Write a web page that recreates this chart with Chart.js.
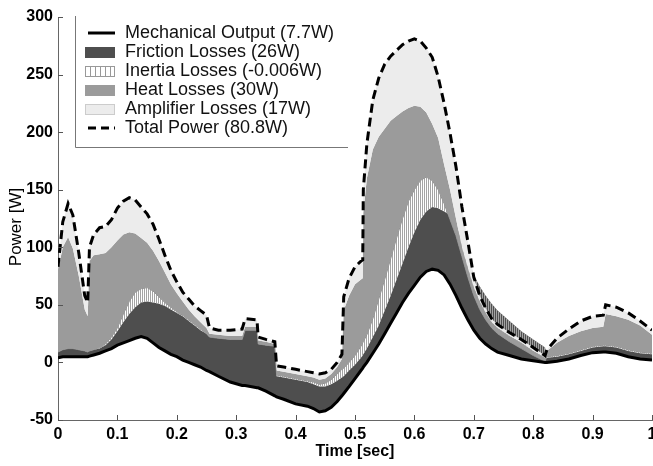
<!DOCTYPE html>
<html>
<head>
<meta charset="utf-8">
<style>
  html, body { margin: 0; padding: 0; background: #fff; }
  canvas { display: block; }
</style>
<script src="https://cdn.jsdelivr.net/npm/chart.js@4.4.1/dist/chart.umd.min.js"></script>
</head>
<body>
<canvas id="power" width="653" height="466"></canvas>
<script>
// time over one cycle [sec]
const time = [0, 0.008, 0.017, 0.025, 0.035, 0.045, 0.05, 0.053, 0.06, 0.07,
  0.08, 0.09, 0.1, 0.11, 0.12, 0.13, 0.14, 0.15, 0.16, 0.17,
  0.18, 0.19, 0.2, 0.21, 0.22, 0.23, 0.24, 0.25, 0.255, 0.27,
  0.29, 0.31, 0.315, 0.335, 0.337, 0.35, 0.365, 0.368, 0.38, 0.4,
  0.42, 0.43, 0.44, 0.45, 0.46, 0.47, 0.478, 0.481, 0.49, 0.5,
  0.51, 0.513, 0.514, 0.52, 0.53, 0.54, 0.55, 0.56, 0.57, 0.58,
  0.59, 0.6, 0.61, 0.62, 0.63, 0.64, 0.65, 0.66, 0.67, 0.68,
  0.69, 0.7, 0.71, 0.72, 0.73, 0.74, 0.76, 0.78, 0.8, 0.82,
  0.823, 0.84, 0.86, 0.88, 0.9, 0.918, 0.922, 0.94, 0.96, 0.98, 1];

// mechanical output [W]
const mechanical = [4, 5, 5, 5, 5, 5, 5, 5.5, 6.5, 8,
  10, 12, 15, 17, 19, 21, 22.5, 21, 17, 13,
  10, 7, 5, 2, 0, -2, -4, -7, -8, -12,
  -17, -20, -20, -22, -22, -25, -29, -30, -32, -36,
  -38, -40, -43, -42, -39, -34, -29, -27, -21, -14,
  -7, -5, -4, 0, 8, 16, 25, 34, 43, 52,
  60, 67, 74, 79, 81, 80, 76, 68, 58, 47,
  37, 28, 21, 16, 12, 9, 6, 3, 1.5, 0,
  0, 1, 3, 6, 8.5, 9, 9, 8, 5, 3, 2];

// running sums: mechanical + friction, + inertia, + heat [W]
const plusFriction = [9, 11, 12, 12, 11, 10, 9, 10, 11, 12,
  15, 20, 27, 35, 42, 48, 52, 53, 52, 51,
  49, 46, 43, 40, 36, 32, 28, 25, 22, 21,
  20, 20, 28, 28, 16, 15, 14, -12, -13, -15,
  -17, -19, -21, -21, -19, -16, -13, -12, -7, -2,
  4, 6, 7, 12, 22, 32, 45, 58, 72, 86,
  100, 113, 124, 131, 135, 134, 131, 128, 120, 105,
  89, 76, 66, 58, 51, 45, 36, 27, 20, 13,
  4, 5, 7, 10, 13, 14, 14, 13, 10, 8, 7];

const plusInertia = [9, 11, 12, 12, 11, 10, 9, 10, 11, 13,
  16, 22, 30, 42, 53, 61, 64, 65, 62, 57,
  52, 48, 44, 41, 37, 33, 29, 25, 22, 21,
  20, 20, 28, 28, 16, 15, 14, -11, -12, -14,
  -16, -17, -19, -18, -15, -10, -6, -5, 0, 6,
  14, 17, 18, 24, 38, 55, 72, 90, 108, 125,
  140, 150, 158, 161, 158, 150, 138, 124, 110, 92,
  74, 58, 46, 37, 30, 25, 18, 12, 6, 1,
  5, 6, 8, 11, 14, 15, 15, 14, 11, 9, 8];

const plusHeat = [80, 100, 109, 99, 75, 46, 40, 88, 93, 94,
  95, 100, 106, 111, 113, 112, 108, 104, 97, 88,
  78, 68, 60, 53, 46, 40, 35, 30, 25, 24,
  23, 23, 31, 31, 19, 18, 16, -7, -8, -10,
  -12, -13, -15, -14, -10, -4, 3, 45, 58, 68,
  72, 73, 130, 160, 185, 196, 203, 210, 214, 218,
  221, 223, 222, 217, 207, 195, 172, 150, 125, 100,
  82, 65, 53, 43, 35, 30, 23, 17, 10, 4,
  10, 17, 23, 27, 30, 31, 42, 40, 37, 32, 24];

// total electrical power (adds amplifier losses) [W]
const totalPower = [83, 122, 138, 128, 95, 58, 52, 100, 111, 117,
  118, 124, 134, 140, 143, 141, 135, 129, 120, 107,
  93, 80, 70, 61, 55, 49, 45, 41, 30, 28,
  28, 29, 38, 37, 22, 20, 18, -3, -4, -6,
  -8, -9, -10, -9, -6, 0, 7, 57, 73, 83,
  88, 89, 150, 190, 228, 247, 259, 266, 271, 276,
  279, 281, 279, 273, 265, 248, 225, 199, 170, 135,
  105, 74, 58, 47, 38, 33, 26, 20, 13, 6,
  11, 21, 29, 36, 40, 41, 50, 48, 43, 36, 28];

const legendLabels = ['Mechanical Output (7.7W)', 'Friction Losses (26W)',
  'Inertia Losses (-0.006W)', 'Heat Losses (30W)', 'Amplifier Losses (17W)',
  'Total Power (80.8W)'];

const xTicks = [0, 0.1, 0.2, 0.3, 0.4, 0.5, 0.6, 0.7, 0.8, 0.9, 1];
const xTickLabels = ['0', '0.1', '0.2', '0.3', '0.4', '0.5', '0.6', '0.7', '0.8', '0.9', '1'];
const yTicks = [-50, 0, 50, 100, 150, 200, 250, 300];

const FONT = '"Liberation Sans", Arial, Helvetica, sans-serif';
const DARK = '#4e4e4e', MID = '#9b9b9b', LIGHT = '#ececec';

// fine vertical hatch for the inertia band
const hatchCanvas = document.createElement('canvas');
hatchCanvas.width = 2; hatchCanvas.height = 2;
const hctx = hatchCanvas.getContext('2d');
hctx.fillStyle = '#a4a4a4';
hctx.fillRect(0, 0, 1, 2);
const hatch = hctx.createPattern(hatchCanvas, 'repeat');

const pts = arr => arr.map((v, i) => ({ x: time[i], y: v }));
const none = 'rgba(0,0,0,0)';

Chart.defaults.font.family = FONT;

// MATLAB-ish decorations: inward ticks, axis titles, legend box
const decor = {
  id: 'decor',
  afterDraw(chart) {
    const { ctx, chartArea: a, scales: { x, y } } = chart;
    ctx.save();
    ctx.strokeStyle = '#555';
    ctx.lineWidth = 1;
    ctx.beginPath();
    x.ticks.forEach(t => {
      const px = Math.round(x.getPixelForValue(t.value)) + 0.5;
      ctx.moveTo(px, a.bottom); ctx.lineTo(px, a.bottom - 5);
    });
    y.ticks.forEach(t => {
      const py = Math.round(y.getPixelForValue(t.value)) + 0.5;
      ctx.moveTo(a.left, py); ctx.lineTo(a.left + 5, py);
    });
    ctx.stroke();

    ctx.fillStyle = '#000';
    ctx.textAlign = 'center';
    ctx.textBaseline = 'middle';
    ctx.font = 'bold 16px ' + FONT;
    ctx.fillText('Time [sec]', (a.left + a.right) / 2, 452);
    ctx.save();
    ctx.translate(16, 227);
    ctx.rotate(-Math.PI / 2);
    ctx.font = '17px ' + FONT;
    ctx.fillText('Power [W]', 0, 0);
    ctx.restore();

    // legend
    const lx = 75, top = 16, bottom = 147, right = 348;
    ctx.fillStyle = '#fff';
    ctx.fillRect(lx + 1, top, right - lx - 1, bottom - top);
    ctx.strokeStyle = '#777';
    ctx.beginPath();
    ctx.moveTo(lx + 0.5, top); ctx.lineTo(lx + 0.5, bottom + 0.5); ctx.lineTo(right, bottom + 0.5);
    ctx.stroke();

    legendLabels.forEach((label, i) => {
      const ry = 33 + i * 19;
      if (i === 0 || i === 5) {
        ctx.strokeStyle = '#000';
        ctx.lineWidth = 3;
        ctx.setLineDash(i === 5 ? [8, 5] : []);
        ctx.beginPath();
        ctx.moveTo(88, ry); ctx.lineTo(115, ry);
        ctx.stroke();
        ctx.setLineDash([]);
      } else {
        const sx = 85, sy = Math.round(ry - 5.5), sw = 30, sh = 11;
        ctx.fillStyle = [null, DARK, '#fff', MID, LIGHT][i];
        ctx.fillRect(sx, sy, sw, sh);
        ctx.lineWidth = 1;
        if (i === 2) {
          ctx.strokeStyle = '#999';
          ctx.beginPath();
          for (let hx = sx + 5; hx < sx + sw; hx += 5) {
            ctx.moveTo(hx + 0.5, sy); ctx.lineTo(hx + 0.5, sy + sh);
          }
          ctx.stroke();
        }
        if (i === 2 || i === 4) {
          ctx.strokeStyle = i === 2 ? '#999' : '#ccc';
          ctx.strokeRect(sx + 0.5, sy + 0.5, sw - 1, sh - 1);
        }
      }
      ctx.fillStyle = '#111';
      ctx.textAlign = 'left';
      ctx.font = '18px ' + FONT;
      ctx.fillText(label, 125, ry);
    });
    ctx.restore();
  }
};

new Chart(document.getElementById('power'), {
  type: 'line',
  data: {
    datasets: [
      { label: 'Mechanical Output', data: pts(mechanical), order: 0,
        borderColor: '#000', borderWidth: 3, fill: false },
      { label: 'Friction Losses', data: pts(plusFriction), order: 4,
        borderColor: none, borderWidth: 0, backgroundColor: DARK, fill: '-1' },
      { label: 'Inertia Losses', data: pts(plusInertia), order: 3,
        borderColor: '#8c8c8c', borderWidth: 1, backgroundColor: hatch, fill: '-1' },
      { label: 'Heat Losses', data: pts(plusHeat), order: 2,
        borderColor: none, borderWidth: 0, backgroundColor: MID, fill: '-1' },
      { label: 'Total Power', data: pts(totalPower), order: 1,
        borderColor: '#000', borderWidth: 3, borderDash: [9, 5],
        backgroundColor: LIGHT, fill: '-1' }
    ]
  },
  options: {
    responsive: false,
    animation: false,
    devicePixelRatio: 1,
    layout: { padding: { top: 17, right: 1, left: 0, bottom: 0 } },
    elements: { point: { radius: 0 }, line: { tension: 0 } },
    plugins: { legend: { display: false }, tooltip: { enabled: false } },
    scales: {
      x: {
        type: 'linear', min: 0, max: 1,
        afterBuildTicks: s => { s.ticks = xTicks.map(v => ({ value: v })); },
        afterFit: s => { s.height = 46; s.paddingLeft = 0; s.paddingRight = 0; },
        grid: { display: true, drawOnChartArea: false, drawTicks: false },
        border: { display: true, color: '#666' },
        ticks: { padding: 5, color: '#000', maxRotation: 0, autoSkip: false,
          font: { size: 16, weight: 'bold' },
          callback: (v, i) => xTickLabels[i] }
      },
      y: {
        min: -50, max: 300,
        afterBuildTicks: s => { s.ticks = yTicks.map(v => ({ value: v })); },
        afterFit: s => { s.width = 58; s.paddingTop = 0; s.paddingBottom = 0; },
        grid: { display: true, drawOnChartArea: false, drawTicks: false },
        border: { display: true, color: '#666' },
        ticks: { padding: 5, color: '#000', autoSkip: false,
          font: { size: 16, weight: 'bold' } }
      }
    }
  },
  plugins: [decor]
});
</script>
</body>
</html>
